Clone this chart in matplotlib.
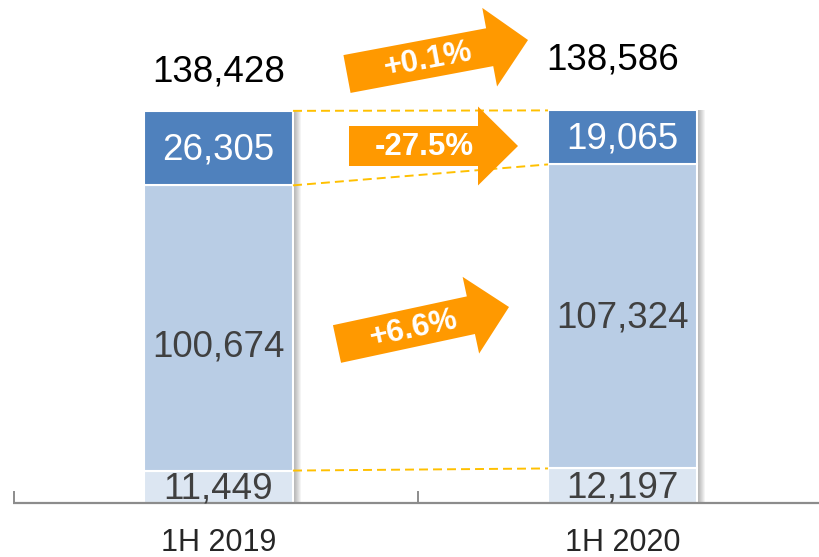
import numpy as np
import matplotlib.pyplot as plt
from matplotlib.patches import Polygon, Rectangle

plt.rcParams['font.family'] = ['Liberation Sans', 'DejaVu Sans']

# data
periods = ['1H 2019', '1H 2020']
bottom_vals = [11449, 12197]
middle_vals = [100674, 107324]
top_vals = [26305, 19065]
totals = [138428, 138586]
changes = ['+0.1%', '-27.5%', '+6.6%']

c_top = '#4F81BD'
c_mid = '#B9CDE5'
c_bot = '#DCE6F2'
c_arrow = '#FF9900'
c_dash = '#FFC000'

W, H = 819, 557
fig = plt.figure(figsize=(W / 100, H / 100), dpi=100)
ax = fig.add_axes([0, 0, 1, 1])
# pixel mapping: baseline at y=503px, ~353 units per px; bar centres at 218.5 and 622.5 px
upp = 353.0
base_px = 503
ax.set_ylim(-(H - base_px) * upp, base_px * upp)
ax.set_xlim(-218.5 / 404, (W - 218.5) / 404)
ax.axis('off')

x = np.arange(len(periods))
bw = 0.369
px = 1 / 404.0

# soft shadow on the right of each bar
for i in range(len(x)):
    tot = bottom_vals[i] + middle_vals[i] + top_vals[i]
    for k in range(1, 9):
        ax.add_patch(Rectangle((x[i] + bw / 2 - 2 * px, 0), (k + 2) * px, tot,
                               color='black', alpha=0.045, lw=0, zorder=1))

ax.bar(x, bottom_vals, bw, color=c_bot, edgecolor='white', lw=1.5, zorder=2)
ax.bar(x, middle_vals, bw, bottom=bottom_vals, color=c_mid, edgecolor='white', lw=1.5, zorder=2)
b2 = np.array(bottom_vals) + np.array(middle_vals)
ax.bar(x, top_vals, bw, bottom=b2, color=c_top, edgecolor='white', lw=1.5, zorder=2)

# connecting dashed lines
levels = [bottom_vals, list(b2), list(b2 + np.array(top_vals))]
for lv in levels:
    ax.plot([x[0] + bw / 2, x[1] - bw / 2], lv, color=c_dash, lw=1.4,
            dashes=(4.6, 2.6), zorder=3)

# axis line + ticks
ax.plot([-0.508, (W - 218.5) / 404], [0, 0], color='#8C8C8C', lw=1.6, zorder=4,
        solid_capstyle='butt')
for tx in [-0.506, 0.494]:
    ax.plot([tx, tx], [0, 11 * upp], color='#8C8C8C', lw=1.4, zorder=4)

fs = 26.5
dn = -2 * upp   # nudge labels down a little
for i in range(len(x)):
    ax.text(x[i], bottom_vals[i] / 2 + dn, f'{bottom_vals[i]:,}', ha='center', va='center',
            fontsize=fs, color='#404040', zorder=5)
    yoff = -17 * upp if i == 0 else 0
    ax.text(x[i], bottom_vals[i] + middle_vals[i] / 2 + yoff + dn, f'{middle_vals[i]:,}',
            ha='center', va='center', fontsize=fs, color='#404040', zorder=5)
    ax.text(x[i], b2[i] + top_vals[i] / 2 + dn, f'{top_vals[i]:,}', ha='center', va='center',
            fontsize=fs, color='white', zorder=5)
    ax.text(x[i], -48 * upp, periods[i], ha='center', va='baseline', fontsize=22,
            color='#262626')

# totals, placed above the bars
tot_off = [(0, 41), (-10, 52)]
for i in range(len(x)):
    dx, dy = tot_off[i]
    ax.text(x[i] + dx * px, totals[i] + dy * upp + dn, f'{totals[i]:,}', ha='center',
            va='center', fontsize=fs, color='black', zorder=5)

# arrows in pixel coords overlay
ov = fig.add_axes([0, 0, 1, 1])
ov.set_xlim(0, W)
ov.set_ylim(H, 0)
ov.axis('off')


def arrow(tail, tip, sw, hw, hl):
    t = np.array(tail, float)
    p = np.array(tip, float)
    d = (p - t) / np.linalg.norm(p - t)
    n = np.array([-d[1], d[0]])
    b = p - d * hl
    pts = [t + n * sw / 2, b + n * sw / 2, b + n * hw / 2, p,
           b - n * hw / 2, b - n * sw / 2, t - n * sw / 2]
    ov.add_patch(Polygon(pts, closed=True, color=c_arrow, lw=0, zorder=6))


arrow((347, 74), (528, 40), 38.5, 80, 39)
arrow((349, 146), (518, 146), 40, 79, 40)
arrow((337, 344), (509, 307), 38.5, 78.5, 39)

afs = 22.5
ov.text(428, 60, changes[0], ha='center', va='center', fontsize=afs, fontweight='bold',
        color='white', rotation=10.6, rotation_mode='anchor', zorder=7)
ov.text(424, 147, changes[1], ha='center', va='center', fontsize=afs, fontweight='bold',
        color='white', zorder=7)
ov.text(414, 329, changes[2], ha='center', va='center', fontsize=afs, fontweight='bold',
        color='white', rotation=12.1, rotation_mode='anchor', zorder=7)

fig.savefig('out.png', dpi=100)
